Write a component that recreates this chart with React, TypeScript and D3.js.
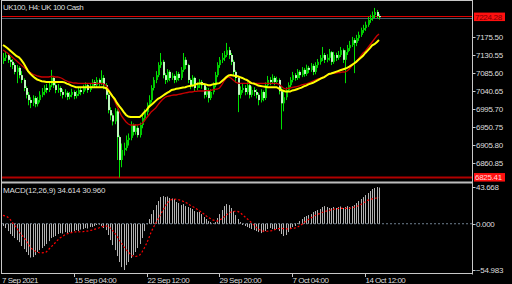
import React from "react";
import * as d3 from "d3";

const W = 512;
const H = 284;

const opens = [7115,7123,7130,7118,7113,7105,7088,7098,7080,7068,
 7048,7031,7018,7011,7023,7008,7018,7031,7038,7048,
 7043,7055,7073,7055,7043,7048,7038,7031,7036,7026,
 7031,7038,7028,7033,7043,7038,7048,7055,7043,7053,
 7063,7055,7068,7060,7073,7055,7031,6993,6980,6965,
 6990,6926,6869,6894,6899,6919,6924,6956,6939,6949,
 6931,6956,6973,6988,7006,7018,7048,7068,7080,7105,
 7113,7080,7068,7088,7073,7078,7068,7083,7073,7093,
 7118,7105,7068,7055,7073,7048,7055,7063,7055,7031,
 7043,7023,7038,7055,7080,7105,7118,7123,7130,7142,
 7130,7113,7088,7073,7031,7043,7048,7038,7055,7031,
 7043,7038,7031,7018,7038,7023,7055,7068,7063,7073,
 7063,7068,7040,7010,7025,7043,7055,7068,7080,7073,
 7088,7080,7093,7083,7098,7093,7103,7088,7105,7113,
 7123,7130,7118,7123,7137,7113,7130,7123,7130,7142,
 7118,7137,7147,7155,7167,7160,7172,7180,7192,7197,
 7205,7217,7222,7229,7237,7227];

const highs = [7135,7140,7134,7125,7120,7110,7105,7102,7090,7072,
 7052,7038,7025,7030,7028,7026,7040,7048,7055,7058,
 7065,7093,7078,7060,7058,7052,7045,7045,7040,7038,
 7046,7042,7041,7050,7048,7056,7062,7060,7060,7070,
 7068,7075,7072,7092,7080,7060,7035,7000,6985,6998,
 6995,6930,6910,6912,6930,6935,6965,6960,6958,6955,
 6962,6985,6995,7012,7030,7055,7075,7090,7112,7135,
 7118,7085,7095,7092,7086,7082,7090,7088,7100,7135,
 7125,7108,7072,7080,7076,7062,7070,7068,7060,7050,
 7048,7045,7062,7088,7112,7125,7135,7140,7160,7150,
 7135,7118,7092,7078,7052,7058,7055,7062,7060,7052,
 7050,7045,7036,7045,7042,7062,7078,7075,7082,7078,
 7076,7072,7050,7040,7050,7062,7075,7088,7085,7095,
 7092,7100,7098,7106,7103,7110,7108,7112,7120,7130,
 7150,7135,7132,7145,7140,7138,7136,7140,7150,7146,
 7142,7155,7165,7175,7172,7180,7188,7198,7205,7213,
 7225,7230,7238,7247,7242,7232];

const lows = [7108,7115,7110,7100,7095,7082,7060,7072,7060,7040,
 7022,7005,6998,7003,7000,7002,7012,7025,7030,7035,
 7038,7050,7048,7035,7036,7028,7022,7025,7018,7020,
 7025,7020,7022,7028,7030,7033,7042,7036,7038,7048,
 7048,7050,7052,7055,7045,7020,6985,6968,6955,6958,
 6869,6825.41,6851,6880,6892,6905,6918,6930,6932,6925,
 6925,6948,6965,6980,7000,7012,7042,7060,7075,7098,
 7072,7058,7062,7065,7068,7060,7062,7066,7068,7088,
 7095,7060,7045,7050,7040,7042,7048,7046,7022,7025,
 7012,7018,7032,7050,7075,7098,7110,7115,7125,7120,
 7105,7080,7062,6988,7022,7036,7030,7032,7022,7025,
 7028,7022,7005,7012,7015,7018,7050,7055,7058,7055,
 7058,7032,6945,6990,7018,7038,7050,7062,7066,7068,
 7072,7075,7076,7078,7085,7088,7080,7082,7098,7106,
 7115,7110,7112,7116,7105,7108,7115,7118,7125,7110,
 7060,7130,7140,7150,7085,7152,7165,7175,7185,7190,
 7200,7210,7215,7222,7220,7218];

const closes = [7123,7130,7118,7113,7105,7088,7098,7080,7068,7048,
 7031,7018,7011,7023,7008,7018,7031,7038,7048,7043,
 7055,7073,7055,7043,7048,7038,7031,7036,7026,7031,
 7038,7028,7033,7043,7038,7048,7055,7043,7053,7063,
 7055,7068,7060,7073,7055,7031,6993,6980,6965,6990,
 6926,6869,6894,6899,6919,6924,6956,6939,6949,6931,
 6956,6973,6988,7006,7018,7048,7068,7080,7105,7113,
 7080,7068,7088,7073,7078,7068,7083,7073,7093,7118,
 7105,7068,7055,7073,7048,7055,7063,7055,7031,7043,
 7023,7038,7055,7080,7105,7118,7123,7130,7142,7130,
 7113,7088,7073,7031,7043,7048,7038,7055,7031,7043,
 7038,7031,7018,7038,7023,7055,7068,7063,7073,7063,
 7068,7040,7010,7025,7043,7055,7068,7080,7073,7088,
 7080,7093,7083,7098,7093,7103,7088,7105,7113,7123,
 7130,7118,7123,7137,7113,7130,7123,7130,7142,7118,
 7137,7147,7155,7167,7160,7172,7180,7192,7197,7205,
 7217,7222,7229,7237,7227,7224];

const maSlow = [7155,7151,7147,7142,7137,7132,7127,7124,7118,7110,
 7100,7090,7083,7078,7073,7069,7067,7065,7064,7063,
 7063,7063,7063,7063,7063,7063,7063,7062,7059,7057,
 7054,7052,7050,7050,7050,7050,7050,7050,7050,7050,
 7050,7050,7050,7050,7050,7048,7043,7036,7028,7021,
 7011,7003,6996,6988,6981,6977,6976,6976,6976,6976,
 6976,6981,6988,6993,7001,7006,7011,7016,7021,7024,
 7028,7032,7036,7039,7043,7044,7046,7047,7048,7049,
 7050,7052,7053,7054,7055,7058,7059,7059,7058,7057,
 7055,7055,7057,7058,7059,7060,7065,7070,7075,7079,
 7080,7079,7078,7077,7075,7073,7070,7068,7064,7060,
 7059,7057,7054,7053,7052,7051,7050,7050,7050,7050,
 7050,7047,7043,7041,7039,7039,7039,7042,7043,7045,
 7047,7049,7052,7054,7057,7059,7061,7064,7067,7070,
 7073,7075,7079,7083,7084,7086,7088,7090,7092,7094,
 7096,7098,7101,7105,7109,7113,7118,7123,7128,7135,
 7141,7147,7154,7157,7162,7167];

const maFast = [7142.5,7138.7,7135,7130,7125.1,7120.1,7115.1,7110.2,7105.2,7100.2,
 7095.2,7090.3,7086.5,7082.8,7080.3,7077.9,7076.6,7075.4,7075.4,7075.4,
 7075.4,7076.6,7076.6,7075.4,7075.4,7074.1,7071.6,7067.9,7065.4,7062.9,
 7061.7,7060.4,7060.4,7059.7,7059.7,7059.7,7059.7,7059.7,7059.7,7059.7,
 7059.7,7059.7,7059.7,7059.7,7058,7055.5,7048,7038.1,7028.1,7015.7,
 7003.3,6990.9,6978.4,6971,6963.5,6958.6,6956.1,6956.1,6956.1,6956.1,
 6957.3,6959.8,6966,6973.5,6980.9,6988.4,6993.4,6998.3,7005.8,7013.2,
 7019.4,7024.4,7026.9,7028.1,7029.4,7030.6,7030.6,7031.9,7033.1,7034.4,
 7035.6,7036.8,7038.1,7038.1,7039.4,7039.4,7040.6,7040.6,7040.6,7041.3,
 7041.3,7041.8,7043.1,7044.3,7045.5,7048,7055.5,7065.4,7072.9,7075.4,
 7072.9,7067.9,7062.9,7060.4,7059.7,7059.7,7059.7,7059.7,7059.7,7059.7,
 7059.7,7059.7,7059.7,7059.7,7059.7,7059.7,7059.7,7059.7,7059.7,7059.7,
 7059.7,7058,7053,7048,7045.5,7046.8,7048,7049.3,7050.5,7051.7,
 7053,7055.5,7056.7,7058,7060.4,7062.9,7065.4,7067.9,7070.4,7072.1,
 7074.1,7076.6,7079.1,7081.6,7084.1,7085.3,7085.3,7086.5,7086.5,7087.8,
 7087.8,7090.3,7095.2,7102.7,7107.7,7112.6,7120.1,7127.5,7135,7140,
 7147.4,7154.9,7162.3,7169.8,7177.2,7182.2];

const macdMain = [-2.7,-5.1,-8.7,-12.2,-14.6,-17,-19.4,-21.8,-26.5,-30.1,
 -33.6,-37.2,-40.2,-39.6,-37.2,-33.6,-31.3,-28.9,-26.5,-24.1,
 -20.6,-17,-15.8,-14.6,-12.2,-11.1,-11.7,-9.9,-11.1,-9.9,
 -10.5,-8.7,-7.5,-8.7,-6.9,-6.3,-5.1,-5.7,-3.9,-3.9,
 -2.7,-1.5,-1,-2.7,-5.1,-7.5,-13.4,-19.4,-25.3,-31.3,
 -38.4,-45.5,-51.5,-54.98,-49.1,-45.5,-40.8,-37.2,-33.6,-28.9,
 -24.1,-17,-8.7,-0.4,5.6,11.5,16.3,22.2,27,31.7,
 32.9,31.7,32.3,30.6,30,29.4,25.8,24.6,22.2,23.4,
 21,19.9,18.7,17.5,15.1,13.9,13.9,11.5,8,5.6,
 3.2,2,0.8,2,6.8,11.5,16.3,21,23.4,22.2,
 18.7,15.1,10.3,5.6,2,-1.5,-2.7,-3.9,-5.1,-6.3,
 -7.5,-8.7,-9.9,-11.1,-9.9,-8.7,-6.3,-5.1,-6.3,-7.5,
 -6.3,-8.7,-12.2,-14.6,-13.4,-9.9,-6.3,-3.9,-2.7,0.8,
 3.2,5.6,8,9.2,10.3,11.5,13.9,15.1,16.3,17.5,
 19.9,21,19.9,18.7,18.7,19.9,18.7,19.9,20.5,18.7,
 19.9,21,19.9,21,22.2,24.6,27,29.4,31.7,34.1,
 36.5,38.9,41.3,42.5,43.668,43];

const macdSignal = [10,9.2,8,5.6,2,-1.5,-5.1,-9.3,-12.8,-15.8,
 -19.4,-23.5,-27.7,-30.7,-32.4,-33.6,-34.5,-34.6,-34.2,-33.6,
 -30.7,-27.7,-25.3,-22.3,-19.4,-17,-15.2,-13.4,-12.2,-11.3,
 -10.5,-9.9,-9.7,-9.6,-9.5,-9.5,-9,-8.7,-8.1,-7.5,
 -6.7,-5.9,-5.1,-3.9,-3.1,-2.5,-3.3,-5.1,-7.5,-11.1,
 -14.6,-19.4,-22.9,-27.1,-30.7,-33.6,-36.6,-38.4,-39,-38.4,
 -37.2,-33.6,-28.9,-23.5,-17,-9.9,-4.5,0.8,5.6,10.3,
 15.1,19.9,24.6,27,28.8,29.4,29.1,28.5,27.8,26.7,
 25.4,24.2,22.2,20.7,19.3,17.5,15.7,13.9,11.9,9.7,
 7.4,6.2,4.6,3.8,3.2,4.4,5.8,8,10.3,12.4,
 13.9,14.5,14.9,14.7,13.3,10.9,8.6,6.2,3.8,1.4,
 -1,-3.9,-6.3,-7.8,-8.7,-8.9,-8.9,-8.7,-8.1,-7.3,
 -6.3,-5.7,-5.5,-5.7,-6.1,-6.1,-5.7,-5.3,-5.1,-4.5,
 -2.7,-1,1.1,3.2,5,6.8,8.2,9.7,11.2,12.1,
 13.3,14.3,15.1,15.9,16.5,17.1,17.7,18.1,18.3,18.3,
 18.3,18.3,18.3,18.9,19.6,20.2,21.6,22.8,24.4,26,
 27.8,28.8,29.6,30.2,30.6,31];

const priceTicks = [7175.5, 7130.55, 7085.6, 7040.65, 6995.7, 6950.75, 6905.8, 6860.85];
const hiLine = 7224.28;
const loLine = 6825.41;
const macdTicks = [43.668, 0, -54.983];
const timeLabels = ["7 Sep 2021", "15 Sep 04:00", "22 Sep 12:00", "29 Sep 20:00", "7 Oct 04:00", "14 Oct 12:00"];
const timeIdx = [0, 31, 63, 95, 127, 159];

const FONT = "'Liberation Sans', Arial, sans-serif";
const TXT = "#dedede";
const FRAME = "#c8c8c8";

export default function App() {
  const N = closes.length;
  const x = d3.scaleLinear().domain([0, N - 1]).range([3, 379]);
  const y = d3.scaleLinear().domain([6860.85, 7175.5]).range([163.3, 36.7]);
  const ym = d3.scaleLinear().domain([-54.983, 43.668]).range([270, 187]);
  const axisX = 472.5;

  const lineP = d3.line<number>().x((_, i) => x(i)).y((d) => y(d));
  const lineM = d3.line<number>().x((_, i) => x(i)).y((d) => ym(d));

  const fmt = d3.format(".2f");
  const fmt3 = d3.format(".3f");

  return (
    <svg width={W} height={H} style={{ position: "absolute", left: 0, top: 0, display: "block", background: "#000" }}>
      <rect x={0} y={0} width={W} height={H} fill="#000" />
      <defs>
        <clipPath id="mainClip">
          <rect x={2} y={1} width={axisX - 2} height={180} />
        </clipPath>
        <clipPath id="macdClip">
          <rect x={2} y={185} width={axisX - 2} height={88} />
        </clipPath>
      </defs>

      <text x={3} y={9.5} fontFamily={FONT} fontSize={8} fill={TXT} letterSpacing={-0.5}>
        UK100, H4:  UK 100 Cash
      </text>

      <g clipPath="url(#mainClip)">
        <line x1={2} x2={axisX} y1={Math.round(y(hiLine)) - 0.5} y2={Math.round(y(hiLine)) - 0.5} stroke="#e00000" strokeWidth={1.2} />
        <line x1={2} x2={axisX} y1={Math.round(y(hiLine)) + 1.5} y2={Math.round(y(hiLine)) + 1.5} stroke="#4c5c6c" strokeWidth={1} />
        <line x1={2} x2={axisX} y1={y(loLine)} y2={y(loLine)} stroke="#b00000" strokeWidth={2} />

        {closes.map((c, i) => {
          const o = opens[i];
          const cx = Math.round(x(i));
          const top = y(Math.max(o, c));
          const bot = y(Math.min(o, c));
          const bull = c >= o;
          return (
            <g key={i}>
              <line x1={cx + 0.5} x2={cx + 0.5} y1={y(highs[i])} y2={y(lows[i])} stroke="#00e000" strokeWidth={1} />
              <rect x={cx} y={top} width={2} height={Math.max(1, bot - top)} fill={bull ? "#00c800" : "#bff7bf"} />
            </g>
          );
        })}

        <path d={lineP(maFast) || ""} fill="none" stroke="#c80000" strokeWidth={1.3} />
        <path d={lineP(maSlow) || ""} fill="none" stroke="#ffff00" strokeWidth={2} />
      </g>

      <rect x={1} y={181.5} width={axisX - 1} height={2} fill="#bdbdbd" />

      <g clipPath="url(#macdClip)">
        <line x1={2} x2={axisX} y1={ym(0)} y2={ym(0)} stroke="#6f7f8f" strokeWidth={1} strokeDasharray="2,2" />
        {macdMain.map((v, i) => {
          const cx = Math.round(x(i));
          const y0 = ym(0);
          const y1 = ym(v);
          return <rect key={i} x={cx} y={Math.min(y0, y1)} width={1} height={Math.max(0.5, Math.abs(y1 - y0))} fill="#b4b4b4" />;
        })}
        <path d={lineM(macdSignal) || ""} fill="none" stroke="#ff0000" strokeWidth={1.2} strokeDasharray="2,2" />
      </g>
      <text x={3} y={192.5} fontFamily={FONT} fontSize={8} fill={TXT} letterSpacing={-0.25}>
        MACD(12,26,9) 34.614 30.960
      </text>

      <line x1={1.5} x2={1.5} y1={0.5} y2={274} stroke={FRAME} strokeWidth={1} />
      <line x1={1} x2={axisX} y1={0.5} y2={0.5} stroke={FRAME} strokeWidth={1} />
      <line x1={axisX} x2={axisX} y1={0} y2={274.5} stroke={FRAME} strokeWidth={1} />
      <line x1={1} x2={axisX} y1={273.5} y2={273.5} stroke={FRAME} strokeWidth={1} />

      {priceTicks.map((p) => (
        <g key={p}>
          <line x1={axisX} x2={axisX + 3} y1={Math.round(y(p)) + 0.5} y2={Math.round(y(p)) + 0.5} stroke={FRAME} />
          <text x={axisX + 3.5} y={y(p) + 3} fontFamily={FONT} fontSize={8} fill={TXT} letterSpacing={-0.3}>
            {fmt(p)}
          </text>
        </g>
      ))}
      {[hiLine, loLine].map((p, k) => (
        <g key={"lbl" + k}>
          <rect x={474} y={y(p) - 4.5} width={31} height={8.5} fill="#ff1010" />
          <text x={475} y={y(p) + 2.8} fontFamily={FONT} fontSize={8} fill={k === 0 ? "#7a0000" : "#ffd8d8"} letterSpacing={-0.3}>
            {fmt(p)}
          </text>
        </g>
      ))}

      {macdTicks.map((v) => (
        <g key={v}>
          <line x1={axisX} x2={axisX + 3} y1={Math.round(ym(v)) + 0.5} y2={Math.round(ym(v)) + 0.5} stroke={FRAME} />
          <text x={axisX + 3.5} y={ym(v) + 3} fontFamily={FONT} fontSize={8} fill={TXT} letterSpacing={-0.3}>
            {fmt3(v)}
          </text>
        </g>
      ))}

      {timeIdx.map((idx, k) => {
        const tx = k === 0 ? 2 : Math.round(x(idx)) + 0.5;
        return (
          <g key={k}>
            {k > 0 && <line x1={tx} x2={tx} y1={273.5} y2={277} stroke={FRAME} />}
            <text x={tx} y={282.5} fontFamily={FONT} fontSize={8} fill={TXT} letterSpacing={-0.5}>
              {timeLabels[k]}
            </text>
          </g>
        );
      })}
    </svg>
  );
}
